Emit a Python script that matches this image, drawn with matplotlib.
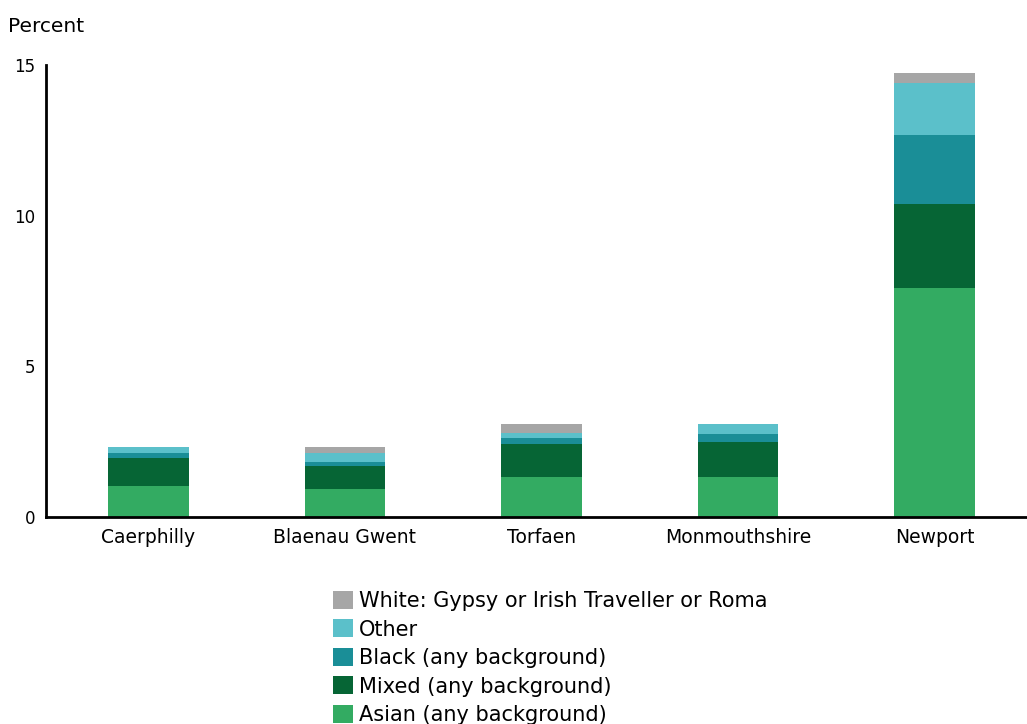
import matplotlib.pyplot as plt
from matplotlib.patches import Patch
import numpy as np

plt.rcParams['font.family'] = ['DejaVu Sans']

# Data ####################################
areas = ['Caerphilly', 'Blaenau Gwent', 'Torfaen', 'Monmouthshire', 'Newport']
asian = [1.04, 0.92, 1.34, 1.34, 7.60]
mixed = [0.91, 0.78, 1.07, 1.14, 2.79]
black = [0.16, 0.12, 0.20, 0.27, 2.29]
other = [0.21, 0.31, 0.18, 0.35, 1.71]
gypsy = [0.00, 0.19, 0.31, 0.00, 0.35]

series = [
    ('Asian (any background)', asian, '#33ab62'),
    ('Mixed (any background)', mixed, '#066535'),
    ('Black (any background)', black, '#1a8e97'),
    ('Other', other, '#5bc0ca'),
    ('White: Gypsy or Irish Traveller or Roma', gypsy, '#a6a6a6'),
]

# Chart ####################################
fig = plt.figure(figsize=(10.27, 7.24), dpi=100)
ax = fig.add_axes([46 / 1027, 1 - 517 / 724, (1027 - 46) / 1027, (517 - 65) / 724])

x = np.arange(len(areas))
bottom = np.zeros(len(areas))
for name, vals, col in series:
    ax.bar(x, vals, width=0.41, bottom=bottom, color=col, edgecolor='none', label=name)
    bottom += np.array(vals)

ax.set_xlim(-0.52, 4.47)
ax.set_ylim(0, 15)
ax.set_yticks([0, 5, 10, 15])
ax.set_xticks(x)
ax.set_xticklabels(areas)
ax.tick_params(axis='both', length=0, colors='#000000')
ax.tick_params(axis='y', pad=8, labelsize=12)
ax.tick_params(axis='x', pad=8, labelsize=13.5)

for s in ['top', 'right']:
    ax.spines[s].set_visible(False)
ax.spines['left'].set_linewidth(2)
ax.spines['bottom'].set_linewidth(2)

fig.text(8 / 1027, 1 - 26 / 724, 'Percent', fontsize=14.5, va='center', ha='left')

handles = [Patch(facecolor=col, edgecolor='none', label=name) for name, vals, col in series[::-1]]
fig.legend(handles=handles, loc='upper left', bbox_to_anchor=(333 / 1027, 1 - 591 / 724),
           frameon=False, fontsize=15, handlelength=0.95, handleheight=0.95,
           handletextpad=0.3, labelspacing=0.4, borderpad=0, borderaxespad=0)

fig.savefig('out.png', dpi=100)
